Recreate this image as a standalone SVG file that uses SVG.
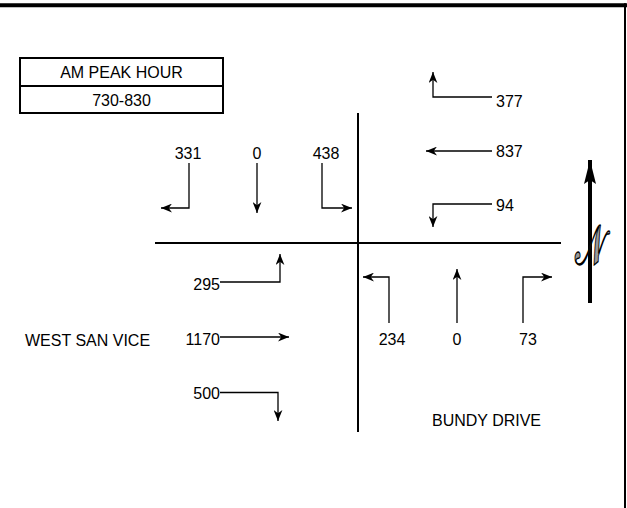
<svg xmlns="http://www.w3.org/2000/svg" width="627" height="508" viewBox="0 0 627 508">
<defs>
<marker id="ah" viewBox="0 0 10 8" refX="10" refY="4" markerWidth="11" markerHeight="9" markerUnits="userSpaceOnUse" orient="auto">
<path d="M0,0 L10,4 L0,8 L3,4 z" fill="#000"/>
</marker>
<marker id="nah" viewBox="0 0 24 12" refX="24" refY="6" markerWidth="24" markerHeight="12" markerUnits="userSpaceOnUse" orient="auto">
<path d="M0,0 L24,6 L0,12 L4,6 z" fill="#000"/>
</marker>
<style>
text{font-family:"Liberation Sans",Arial,sans-serif;font-size:16px;fill:#000}
.road{stroke:#000;stroke-width:2;fill:none}
.mv{stroke:#000;stroke-width:1.3;fill:none;marker-end:url(#ah)}
.m{text-anchor:middle}
.e{text-anchor:end}
</style>
</defs>
<rect width="627" height="508" fill="#fff"/>
<g id="frame">
<line x1="0" y1="5.3" x2="627" y2="5.3" stroke="#000" stroke-width="4"/>
<line x1="625" y1="3.3" x2="625" y2="508" stroke="#000" stroke-width="2"/>
</g>
<g id="legend">
<rect x="20" y="58" width="203" height="55" fill="none" stroke="#000" stroke-width="2"/>
<line x1="20" y1="86" x2="223" y2="86" stroke="#000" stroke-width="2"/>
<text x="121.5" y="78" class="m">AM PEAK HOUR</text>
<text x="121.5" y="105.5" class="m">730-830</text>
</g>
<g id="roads">
<line class="road" x1="155" y1="243" x2="561" y2="243"/>
<line class="road" x1="358" y1="113" x2="358" y2="432"/>
</g>
<g id="north">
<line x1="590" y1="303" x2="590" y2="160" stroke="#000" stroke-width="4" marker-end="url(#nah)"/>
<text x="0" y="0" class="m" transform="translate(590,264) scale(0.8,1.4)" style="font-family:'DejaVu Serif','DejaVu Sans','Liberation Serif',serif;font-size:40px;fill:#999;stroke:#000;stroke-width:1">𝒩</text>
</g>
<g id="connectors">
<polyline class="mv" points="492,97 433,97 433,72"/>
<polyline class="mv" points="492,151 426,151"/>
<polyline class="mv" points="492,204 433,204 433,227"/>
<polyline class="mv" points="189,163 189,208 161,208"/>
<polyline class="mv" points="257,163 257,213"/>
<polyline class="mv" points="322,163 322,208 352,208"/>
<polyline class="mv" points="220,282 280,282 280,254"/>
<polyline class="mv" points="220,337 289,337"/>
<polyline class="mv" points="220,392.5 278,392.5 278,421"/>
<polyline class="mv" points="389,323 389,277 363,277"/>
<polyline class="mv" points="457,323 457,269"/>
<polyline class="mv" points="523,323 523,277 552,277"/>
</g>
<g id="labels">
<text x="496" y="106.5">377</text>
<text x="496" y="156.5">837</text>
<text x="496" y="210.5">94</text>
<text x="188" y="159" class="m">331</text>
<text x="257" y="159" class="m">0</text>
<text x="326" y="159" class="m">438</text>
<text x="220" y="289.5" class="e">295</text>
<text x="220" y="344.5" class="e">1170</text>
<text x="220" y="398.5" class="e">500</text>
<text x="25" y="345.5">WEST SAN VICE</text>
<text x="392" y="344.5" class="m">234</text>
<text x="457" y="344.5" class="m">0</text>
<text x="528" y="344.5" class="m">73</text>
<text x="486.5" y="425.5" class="m">BUNDY DRIVE</text>
</g>
</svg>
